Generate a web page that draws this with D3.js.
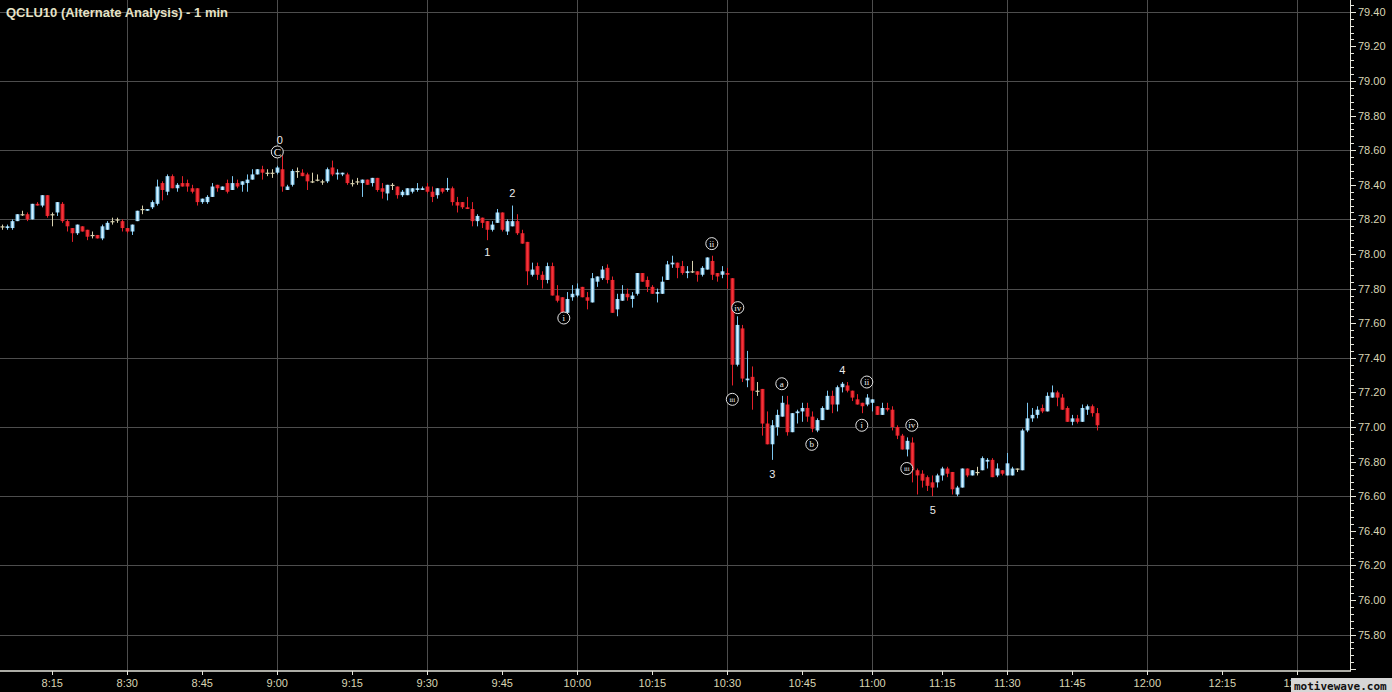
<!DOCTYPE html>
<html>
<head>
<meta charset="utf-8">
<script src="https://cdn.jsdelivr.net/npm/d3@7/dist/d3.min.js"></script>
<style>
  body { margin: 0; background: #000; overflow: hidden; }
  svg { display: block; }
  text { font-family: "Liberation Sans", Arial, sans-serif; }
</style>
</head>
<body>
<div id="chart"></div>
<script>
// 1 min bars, first bar is 8:05, one row = [open, high, low, close]
const bars = [
  [78.16,78.17,78.14,78.16],[78.15,78.17,78.14,78.16],[78.15,78.20,78.14,78.19],[78.19,78.23,78.19,78.23],
  [78.23,78.25,78.22,78.23],[78.23,78.24,78.19,78.20],[78.20,78.29,78.20,78.29],[78.29,78.30,78.28,78.28],
  [78.28,78.34,78.27,78.34],[78.34,78.34,78.21,78.22],[78.23,78.24,78.16,78.23],[78.24,78.30,78.22,78.30],
  [78.29,78.30,78.18,78.19],[78.19,78.20,78.13,78.16],[78.15,78.15,78.07,78.12],[78.12,78.17,78.11,78.17],
  [78.16,78.16,78.13,78.13],[78.14,78.14,78.08,78.10],[78.11,78.13,78.09,78.11],[78.11,78.11,78.09,78.09],
  [78.09,78.17,78.08,78.16],[78.14,78.19,78.14,78.18],[78.19,78.21,78.17,78.19],[78.20,78.21,78.18,78.20],
  [78.19,78.20,78.13,78.15],[78.15,78.15,78.12,78.13],[78.13,78.17,78.11,78.17],[78.19,78.25,78.19,78.25],
  [78.26,78.28,78.23,78.26],[78.25,78.26,78.25,78.26],[78.27,78.31,78.26,78.30],[78.29,78.43,78.28,78.39],
  [78.41,78.42,78.31,78.37],[78.36,78.46,78.34,78.45],[78.45,78.46,78.38,78.38],[78.38,78.41,78.36,78.40],
  [78.41,78.45,78.39,78.39],[78.41,78.43,78.36,78.39],[78.38,78.40,78.35,78.36],[78.38,78.38,78.28,78.30],
  [78.30,78.32,78.29,78.32],[78.30,78.34,78.29,78.33],[78.33,78.41,78.33,78.39],[78.40,78.40,78.36,78.38],
  [78.37,78.39,78.37,78.39],[78.41,78.43,78.35,78.36],[78.37,78.45,78.37,78.41],[78.41,78.43,78.38,78.39],
  [78.40,78.42,78.36,78.42],[78.41,78.46,78.36,78.43],[78.43,78.49,78.43,78.46],[78.46,78.49,78.46,78.49],
  [78.49,78.51,78.43,78.47],[78.47,78.49,78.45,78.47],[78.47,78.49,78.44,78.47],[78.47,78.51,78.46,78.50],
  [78.49,78.57,78.36,78.39],[78.37,78.40,78.37,78.39],[78.40,78.49,78.39,78.48],[78.48,78.50,78.44,78.48],
  [78.47,78.49,78.45,78.45],[78.46,78.47,78.37,78.42],[78.42,78.47,78.41,78.42],[78.43,78.46,78.42,78.43],
  [78.42,78.43,78.40,78.42],[78.42,78.50,78.41,78.49],[78.50,78.54,78.45,78.46],[78.46,78.49,78.43,78.47],
  [78.46,78.47,78.45,78.47],[78.46,78.47,78.40,78.41],[78.41,78.43,78.39,78.41],[78.42,78.44,78.40,78.42],
  [78.41,78.43,78.33,78.43],[78.43,78.43,78.40,78.40],[78.41,78.44,78.39,78.44],[78.44,78.44,78.36,78.37],
  [78.38,78.41,78.32,78.36],[78.35,78.40,78.31,78.40],[78.40,78.41,78.37,78.40],[78.39,78.39,78.32,78.34],
  [78.34,78.37,78.33,78.36],[78.34,78.38,78.34,78.38],[78.36,78.38,78.35,78.38],[78.37,78.41,78.36,78.38],
  [78.37,78.39,78.37,78.38],[78.39,78.41,78.35,78.36],[78.36,78.39,78.30,78.33],[78.34,78.38,78.32,78.38],
  [78.38,78.38,78.35,78.36],[78.37,78.44,78.36,78.38],[78.38,78.39,78.28,78.30],[78.30,78.33,78.24,78.28],
  [78.30,78.30,78.26,78.27],[78.27,78.33,78.26,78.26],[78.26,78.30,78.16,78.19],[78.19,78.23,78.16,78.22],
  [78.21,78.21,78.15,78.18],[78.19,78.19,78.08,78.14],[78.14,78.19,78.13,78.17],[78.18,78.26,78.18,78.24],
  [78.24,78.24,78.13,78.14],[78.13,78.20,78.11,78.19],[78.16,78.28,78.16,78.19],[78.19,78.23,78.11,78.12],
  [78.12,78.14,78.06,78.06],[78.07,78.07,77.82,77.90],[77.88,77.95,77.87,77.91],[77.93,77.95,77.85,77.88],
  [77.88,77.90,77.80,77.85],[77.85,77.95,77.83,77.93],[77.93,77.95,77.76,77.76],[77.76,77.82,77.72,77.73],
  [77.75,77.75,77.66,77.66],[77.66,77.78,77.66,77.74],[77.75,77.82,77.73,77.77],[77.76,77.83,77.75,77.80],
  [77.81,77.81,77.75,77.75],[77.75,77.78,77.68,77.73],[77.72,77.89,77.72,77.86],[77.84,77.87,77.81,77.87],
  [77.86,77.93,77.85,77.91],[77.92,77.94,77.83,77.85],[77.85,77.87,77.66,77.66],[77.68,77.77,77.64,77.74],
  [77.73,77.82,77.73,77.77],[77.77,77.80,77.73,77.75],[77.74,77.78,77.69,77.76],[77.77,77.89,77.76,77.89],
  [77.89,77.89,77.84,77.84],[77.85,77.87,77.78,77.81],[77.81,77.82,77.77,77.77],[77.77,77.80,77.72,77.78],
  [77.77,77.87,77.77,77.84],[77.85,77.96,77.85,77.94],[77.94,77.99,77.92,77.95],[77.95,77.95,77.86,77.92],
  [77.93,77.96,77.88,77.89],[77.89,77.93,77.86,77.90],[77.90,77.96,77.89,77.90],[77.90,77.90,77.84,77.88],
  [77.88,77.93,77.87,77.92],[77.91,77.98,77.91,77.98],[77.96,77.99,77.85,77.88],[77.89,77.89,77.84,77.87],
  [77.88,77.93,77.86,77.90],[77.89,77.92,77.80,77.88],[77.86,77.86,77.24,77.36],[77.36,77.64,77.35,77.59],
  [77.57,77.59,77.26,77.28],[77.27,77.44,77.23,77.28],[77.29,77.35,77.10,77.21],[77.21,77.26,77.18,77.21],
  [77.22,77.22,76.95,77.02],[77.02,77.09,76.90,76.90],[76.90,77.04,76.81,77.01],[77.00,77.10,76.95,77.07],
  [77.06,77.18,77.06,77.14],[77.13,77.18,76.95,76.97],[76.97,77.08,76.97,77.08],[77.08,77.10,77.02,77.09],
  [77.09,77.14,77.03,77.11],[77.11,77.14,77.03,77.06],[77.06,77.09,76.97,76.99],[76.98,77.05,76.97,77.04],
  [77.04,77.12,77.04,77.11],[77.10,77.21,77.10,77.18],[77.18,77.21,77.08,77.13],[77.13,77.24,77.09,77.23],
  [77.23,77.26,77.20,77.25],[77.24,77.26,77.20,77.21],[77.21,77.21,77.15,77.17],[77.16,77.19,77.13,77.13],
  [77.14,77.14,77.08,77.12],[77.13,77.19,77.12,77.17],[77.14,77.16,77.09,77.16],[77.12,77.12,77.07,77.07],
  [77.07,77.14,77.07,77.11],[77.11,77.14,77.09,77.10],[77.10,77.12,76.98,77.00],[77.00,77.01,76.93,76.95],
  [76.95,76.96,76.87,76.87],[76.87,76.94,76.83,76.92],[76.91,76.94,76.68,76.75],[76.75,76.76,76.61,76.72],
  [76.73,76.75,76.65,76.69],[76.71,76.72,76.63,76.66],[76.68,76.72,76.60,76.65],[76.68,76.73,76.65,76.72],
  [76.72,76.77,76.69,76.76],[76.76,76.77,76.71,76.73],[76.74,76.74,76.61,76.64],[76.61,76.66,76.60,76.65],
  [76.65,76.76,76.65,76.76],[76.76,76.76,76.71,76.72],[76.72,76.75,76.72,76.75],[76.74,76.77,76.72,76.74],
  [76.75,76.83,76.75,76.82],[76.80,76.82,76.76,76.81],[76.81,76.82,76.71,76.71],[76.72,76.79,76.71,76.76],
  [76.75,76.75,76.72,76.73],[76.72,76.85,76.72,76.79],[76.72,76.77,76.72,76.76],[76.76,76.76,76.74,76.76],
  [76.75,76.99,76.75,76.98],[76.98,77.14,76.97,77.05],[77.05,77.11,77.03,77.07],[77.07,77.12,77.05,77.10],
  [77.11,77.13,77.08,77.09],[77.09,77.20,77.09,77.18],[77.17,77.24,77.17,77.20],[77.20,77.21,77.12,77.17],
  [77.17,77.19,77.10,77.10],[77.11,77.12,77.03,77.03],[77.03,77.07,77.01,77.05],[77.05,77.07,77.02,77.03],
  [77.03,77.13,77.03,77.11],[77.10,77.13,77.07,77.12],[77.12,77.13,77.06,77.08],[77.08,77.11,76.98,77.01]
]

// time axis: labels and the bar slot they sit on (a few minutes have no bar)
const timeLabels = ["8:15","8:30","8:45","9:00","9:15","9:30","9:45","10:00","10:15","10:30",
                    "10:45","11:00","11:15","11:30","11:45","12:00","12:15","12:30"]
const timeSlots = [10,25,40,55,70,85,100,115,130,145,160,174,188,201,214,229,244,259]

// price axis labels
const priceLabels = [75.80,76.00,76.20,76.40,76.60,76.80,77.00,77.20,77.40,77.60,77.80,78.00,78.20,78.40,78.60,78.80,79.00,79.20,79.40]
const gridPrices = [75.80,76.20,76.60,77.00,77.40,77.80,78.20,78.60,79.00,79.40]

// elliott wave labels: text, bar slot, price, mark (plain / circle / double)
const waveText  = ["0","C","1","2","i","ii","iii","iv","3","a","b","4","i","ii","iii","iv","5"]
const waveSlot  = [55.5,55,97,102,112.3,141.9,146,147.1,154,155.9,161.9,168,171.9,172.9,180.9,181.9,186.1]
const wavePrice = [78.66,78.59,78.01,78.35,77.63,78.06,77.16,77.69,76.73,77.25,76.90,77.33,77.01,77.26,76.76,77.01,76.52]
const waveMark  = ["plain","double","plain","plain","circle","circle","circle","circle","plain","circle","circle","plain","circle","circle","circle","circle","plain"]

let width = 1392, height = 692
let axisX = 1350, axisY = 671

let svg = d3.select("#chart")
    .append("svg")
    .attr("width", width)
    .attr("height", height)
    .style("background", "#000")

let x = d3.scaleLinear()
    .domain([0, 260])
    .range([2.3, 1302.3])

let y = d3.scaleLinear()
    .domain([75.80, 79.40])
    .range([634.6, 11.8])

//渐变 for candle bodies
let defs = svg.append("defs")
let grads = [["upGrad", "#5eb2e0", "#d6f1ff"], ["downGrad", "#c8141c", "#f5333a"]]
grads.forEach(function (g) {
    let lg = defs.append("linearGradient").attr("id", g[0])
        .attr("x1", "0%").attr("x2", "100%").attr("y1", "0%").attr("y2", "0%")
    lg.append("stop").attr("offset", "0%").attr("stop-color", g[1])
    lg.append("stop").attr("offset", "50%").attr("stop-color", g[2])
    lg.append("stop").attr("offset", "100%").attr("stop-color", g[1])
})

// grid
svg.selectAll(".hgrid")
    .data(gridPrices)
    .enter()
    .append("line")
    .attr("class", "hgrid")
    .attr("x1", 0)
    .attr("x2", axisX)
    .attr("y1", d => Math.round(y(d)) + 0.5)
    .attr("y2", d => Math.round(y(d)) + 0.5)
    .attr("stroke", "#4d4d4d")

let gridSlots = timeSlots.filter((d, i) => /:(00|30)$/.test(timeLabels[i]))
svg.selectAll(".vgrid")
    .data(gridSlots)
    .enter()
    .append("line")
    .attr("class", "vgrid")
    .attr("x1", d => Math.round(x(d)) + 0.5)
    .attr("x2", d => Math.round(x(d)) + 0.5)
    .attr("y1", 0)
    .attr("y2", axisY)
    .attr("stroke", "#4d4d4d")

function barKind(d) {
    if (d[3] > d[0]) return "up"
    if (d[3] < d[0]) return "down"
    return "flat"
}
let wickColor = { up: "#7cc6ee", down: "#e2202a", flat: "#d9d2b0" }
let bodyFill = { up: "url(#upGrad)", down: "url(#downGrad)", flat: "#d9d2b0" }

let candles = svg.selectAll(".candle")
    .data(bars)
    .enter()
    .append("g")
    .attr("class", "candle")

candles.append("line")
    .attr("x1", (d, i) => Math.round(x(i)) + 0.5)
    .attr("x2", (d, i) => Math.round(x(i)) + 0.5)
    .attr("y1", d => y(d[1]))
    .attr("y2", d => y(d[2]))
    .attr("stroke", d => wickColor[barKind(d)])
    .attr("stroke-width", 1)

candles.append("rect")
    .attr("x", (d, i) => Math.round(x(i)) - 1.5)
    .attr("width", 4)
    .attr("y", d => y(Math.max(d[0], d[3])))
    .attr("height", d => Math.max(1.2, Math.abs(y(d[0]) - y(d[3]))))
    .attr("fill", d => bodyFill[barKind(d)])

// wave labels
let waves = svg.selectAll(".wave")
    .data(waveText)
    .enter()
    .append("g")
    .attr("class", "wave")
    .attr("transform", (d, i) => "translate(" + x(waveSlot[i]) + "," + y(wavePrice[i]) + ")")

waves.filter((d, i) => waveMark[i] != "plain")
    .append("circle")
    .attr("r", 6)
    .attr("fill", "#000")
    .attr("stroke", "#e4e4e4")
    .attr("stroke-width", 1)

waves.append("text")
    .text(d => d)
    .attr("text-anchor", "middle")
    .attr("dy", "0.35em")
    .style("font-family", (d, i) => waveMark[i] == "plain" ? '"Liberation Sans", Arial, sans-serif' : '"Liberation Serif", serif')
    .style("font-size", (d, i) => waveMark[i] == "plain" ? "11px" : waveMark[i] == "double" ? "11px" : (d.length > 2 ? "7px" : "9px"))
    .style("fill", "#ececec")

// axes
let axisColor = "#e6e6dc", labelColor = "#d9d5b4"

svg.append("line")
    .attr("x1", 0).attr("x2", axisX + 1)
    .attr("y1", axisY).attr("y2", axisY)
    .attr("stroke", axisColor).attr("stroke-width", 1.5)
svg.append("line")
    .attr("x1", axisX + 0.5).attr("x2", axisX + 0.5)
    .attr("y1", 0).attr("y2", axisY)
    .attr("stroke", axisColor).attr("stroke-width", 1)

// x ticks and labels
svg.selectAll(".xtick")
    .data(timeSlots)
    .enter()
    .append("line")
    .attr("class", "xtick")
    .attr("x1", d => Math.round(x(d)) + 0.5)
    .attr("x2", d => Math.round(x(d)) + 0.5)
    .attr("y1", axisY)
    .attr("y2", axisY + 4)
    .attr("stroke", axisColor)

svg.selectAll(".xlabel")
    .data(timeLabels)
    .enter()
    .append("text")
    .attr("class", "xlabel")
    .attr("x", (d, i) => x(timeSlots[i]))
    .attr("y", 687)
    .attr("text-anchor", "middle")
    .style("font-size", "11px")
    .style("fill", labelColor)
    .text(d => d)

// y ticks: minor every 0.04, labelled every 0.20
let minorTicks = d3.range(0, 98).map(k => 75.60 + k * 0.04).filter(p => y(p) > 0 && y(p) < axisY - 1)
svg.selectAll(".ytick")
    .data(minorTicks)
    .enter()
    .append("line")
    .attr("class", "ytick")
    .attr("x1", axisX + 1)
    .attr("x2", (d, i) => axisX + 1 + (Math.abs(Math.round(d * 5) - d * 5) < 1e-6 ? 5 : 3))
    .attr("y1", d => Math.round(y(d)) + 0.5)
    .attr("y2", d => Math.round(y(d)) + 0.5)
    .attr("stroke", axisColor)

svg.selectAll(".ylabel")
    .data(priceLabels)
    .enter()
    .append("text")
    .attr("class", "ylabel")
    .attr("x", axisX + 8)
    .attr("y", d => y(d) + 4)
    .style("font-size", "11px")
    .style("fill", labelColor)
    .text(d => d3.format(".2f")(d))

// title
svg.append("text")
    .attr("x", 6)
    .attr("y", 17)
    .style("font-size", "13px")
    .style("font-weight", "bold")
    .style("fill", "#e6e2c6")
    .text("QCLU10 (Alternate Analysis) - 1 min")

// watermark (sits over the last time label, as in the original)
svg.append("rect")
    .attr("x", 1291).attr("y", 678)
    .attr("width", 101).attr("height", 14)
    .attr("fill", "#d6d6d6")
svg.append("text")
    .attr("x", 1294).attr("y", 690)
    .style("font-family", '"DejaVu Sans Mono", monospace')
    .style("font-weight", "bold")
    .style("font-size", "11px")
    .style("fill", "#111")
    .text("motivewave.com")
</script>
</body>
</html>
